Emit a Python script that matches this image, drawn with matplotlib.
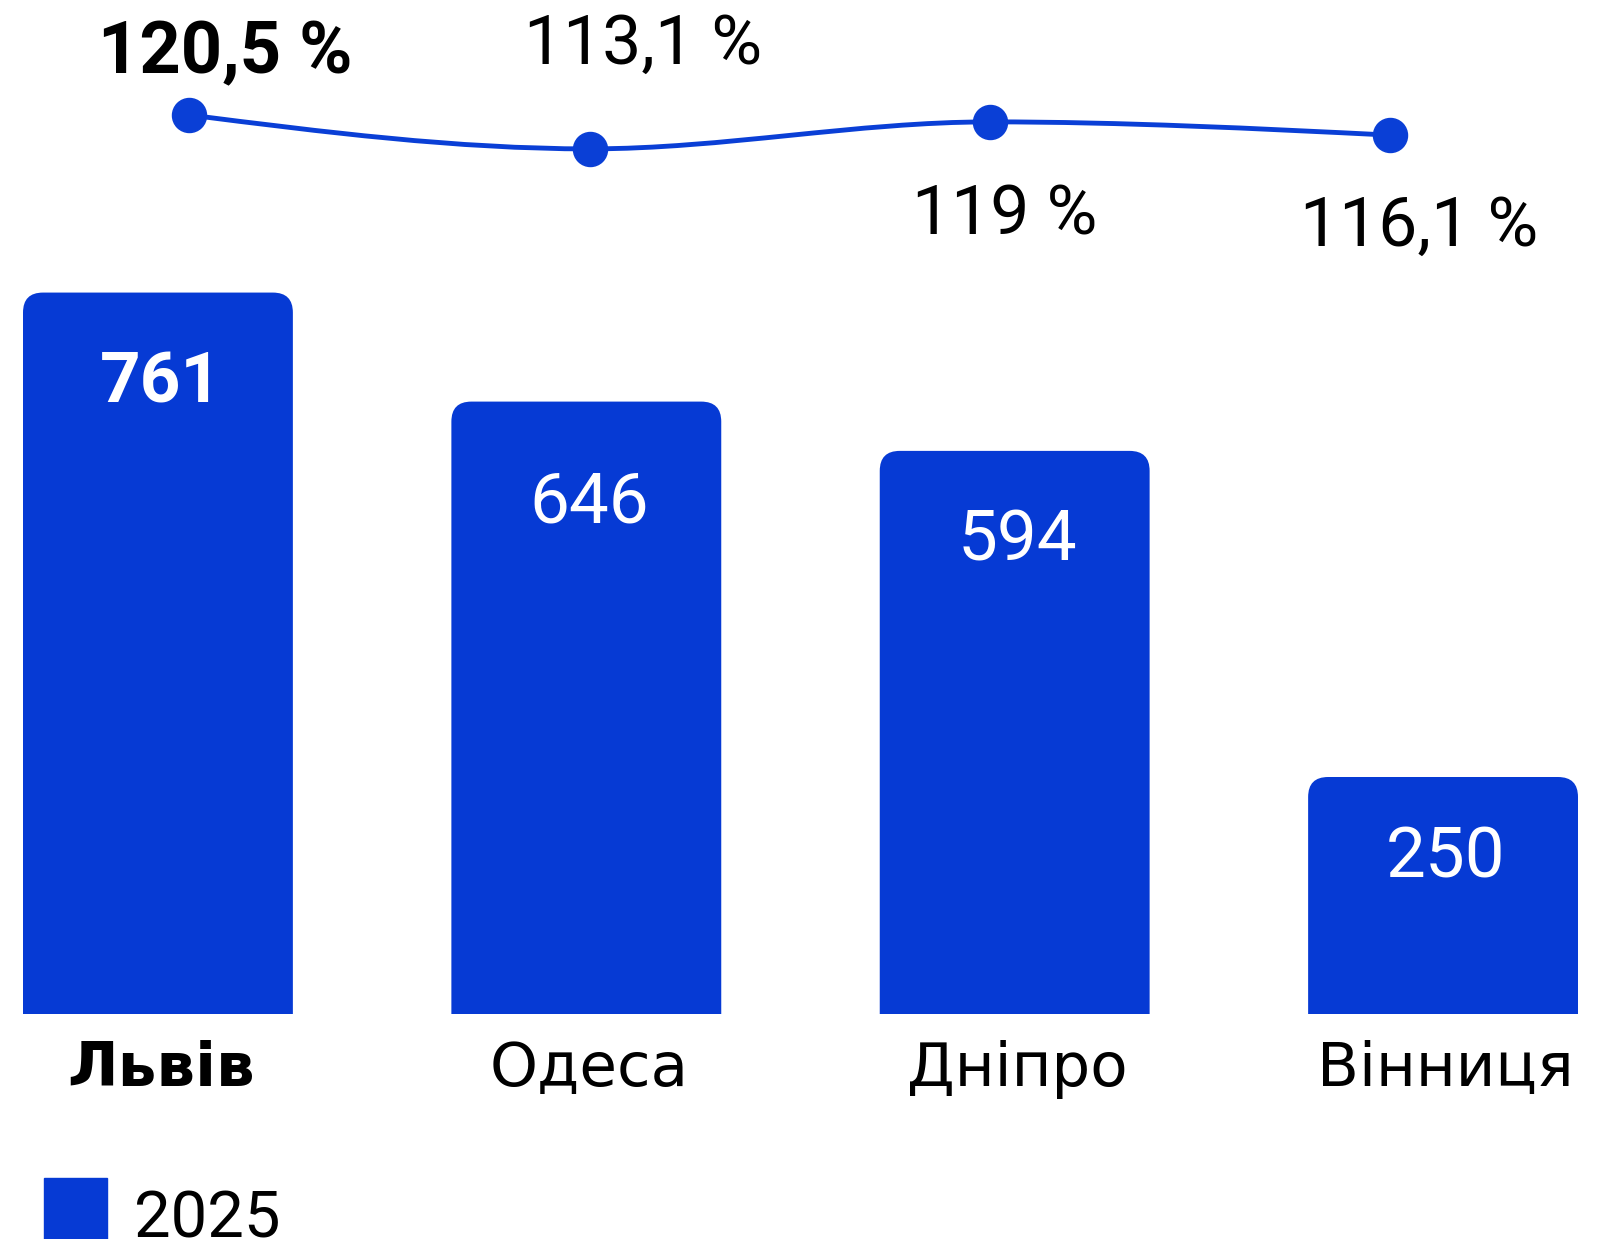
import numpy as np
import matplotlib
matplotlib.use('Agg')
import matplotlib.pyplot as plt
from matplotlib.path import Path
from matplotlib.patches import PathPatch, Rectangle

# ---- data ----
cities = ['Львів', 'Одеса', 'Дніпро', 'Вінниця']
counts = [761, 646, 594, 250]
growth = [120.5, 113.1, 119.0, 116.1]
growth_labels = ['120,5 %', '113,1 %', '119 %', '116,1 %']
legend_label = '2025'
highlight = 0  # Lviv is shown in bold

BLUE = '#063ad4'
LINE_BLUE = '#0a3fd6'
W, H = 1614, 1239
PT = 0.72  # points per pixel at dpi 100

plt.rcParams['font.family'] = ['Roboto', 'DejaVu Sans']

fig = plt.figure(figsize=(W / 100, H / 100), dpi=100)

# ---- bars ----
ax = fig.add_axes([23 / W, (H - 1014) / H, 1555 / W, 948 / H])
ax.set_xlim(-0.315, 3.315)
ax.set_ylim(0, 1000)
ax.axis('off')

x = np.arange(len(cities))
bars = ax.bar(x, counts, width=0.63, color=BLUE)

# rounded top corners, radius ~20 px
r = 20
rx = r * (3.315 + 0.315) / 1555
ry = r * 1000 / 948
for b in bars:
    x0, w, h = b.get_x(), b.get_width(), b.get_height()
    verts = [(x0, 0), (x0, h - ry), (x0, h), (x0 + rx, h),
             (x0 + w - rx, h), (x0 + w, h), (x0 + w, h - ry),
             (x0 + w, 0), (x0, 0)]
    codes = [Path.MOVETO, Path.LINETO, Path.CURVE3, Path.CURVE3,
             Path.LINETO, Path.CURVE3, Path.CURVE3, Path.LINETO, Path.CLOSEPOLY]
    b.set_visible(False)
    ax.add_patch(PathPatch(Path(verts, codes), facecolor=BLUE, edgecolor='none'))

value_drop = [110, 121, 110, 100]  # px from bar top to label baseline
for i, (xi, v) in enumerate(zip(x, counts)):
    ax.annotate(f'{v}', (xi, v), xytext=(2, -value_drop[i] * PT), textcoords='offset points',
                ha='center', va='baseline', color='white', fontsize=51,
                fontweight='bold' if i == highlight else 'normal')
    ax.annotate(cities[i], (xi, 0), xytext=(2, -72 * PT), textcoords='offset points',
                ha='center', va='baseline', color='black', fontsize=44,
                family=['DejaVu Sans'],
                fontweight='bold' if i == highlight else 'normal')

# ---- growth line ----
lax = fig.add_axes([23 / W, (H - 163.06) / H, 1555 / W, 68.64 / H])
lax.set_xlim(-0.416, 3.4695)
lax.set_ylim(110, 125)
lax.axis('off')

gx = np.arange(len(growth), dtype=float)
gy = np.array(growth, dtype=float)

# monotone-x smoothing (bezier control points from tangents)
s = np.diff(gy) / np.diff(gx)
t = np.zeros(len(gy))
for k in range(1, len(gy) - 1):
    if s[k - 1] * s[k] > 0:
        h0, h1 = gx[k] - gx[k - 1], gx[k + 1] - gx[k]
        p = (s[k - 1] * h1 + s[k] * h0) / (h0 + h1)
        t[k] = np.sign(s[k - 1]) * min(abs(s[k - 1]), abs(s[k]), 0.5 * abs(p)) * 2
t[0] = (3 * s[0] - t[1]) / 2
t[-1] = (3 * s[-1] - t[-2]) / 2

verts = [(gx[0], gy[0])]
codes = [Path.MOVETO]
for k in range(len(gy) - 1):
    dx = (gx[k + 1] - gx[k]) / 3
    verts += [(gx[k] + dx, gy[k] + dx * t[k]),
              (gx[k + 1] - dx, gy[k + 1] - dx * t[k + 1]),
              (gx[k + 1], gy[k + 1])]
    codes += [Path.CURVE4] * 3
lax.add_patch(PathPatch(Path(verts, codes), fill=False, edgecolor=LINE_BLUE,
                        lw=3.5, clip_on=False, capstyle='round'))
lax.plot(gx, gy, 'o', ms=24.5, color=LINE_BLUE, clip_on=False, zorder=3)

label_offsets = [(36, 42), (53, 85), (15, -113), (29, -111)]
for i, (xi, yi) in enumerate(zip(gx, gy)):
    dx, dy = label_offsets[i]
    lax.annotate(growth_labels[i], (xi, yi), xytext=(dx * PT, dy * PT),
                 textcoords='offset points', ha='center', va='baseline',
                 fontsize=52 if i == highlight else 50, color='black',
                 fontweight='bold' if i == highlight else 'normal',
                 annotation_clip=False)

# ---- legend ----
fig.patches.append(Rectangle((44 / W, (H - 1241) / H), 63 / W, 63 / H,
                             transform=fig.transFigure, color=BLUE))
fig.text(134 / W, (H - 1237) / H, legend_label, fontsize=47,
         ha='left', va='baseline', color='black')

fig.savefig('out.png', dpi=100)
